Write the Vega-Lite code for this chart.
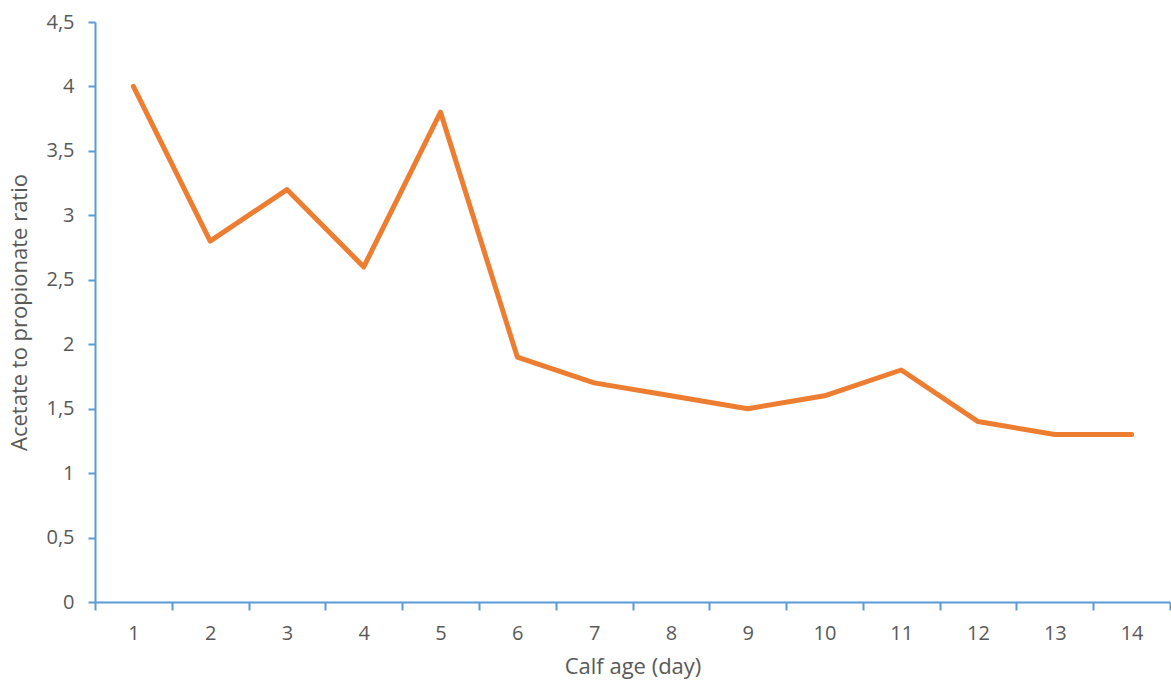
{
  "$schema": "https://vega.github.io/schema/vega-lite/v6.json",
  "autosize": {"type": "none"},
  "width": 1075,
  "height": 580,
  "padding": {"left": 95, "top": 22, "right": 1, "bottom": 85},
  "background": "white",
  "config": {"view": {"stroke": null}, "font": "Open Sans"},
  "data": {"values": [
    {"day": "1", "ratio": 4.0},
    {"day": "2", "ratio": 2.8},
    {"day": "3", "ratio": 3.2},
    {"day": "4", "ratio": 2.6},
    {"day": "5", "ratio": 3.8},
    {"day": "6", "ratio": 1.9},
    {"day": "7", "ratio": 1.7},
    {"day": "8", "ratio": 1.6},
    {"day": "9", "ratio": 1.5},
    {"day": "10", "ratio": 1.6},
    {"day": "11", "ratio": 1.8},
    {"day": "12", "ratio": 1.4},
    {"day": "13", "ratio": 1.3},
    {"day": "14", "ratio": 1.3}
  ]},
  "mark": {"type": "line", "color": "#ED7D31", "strokeWidth": 5, "strokeCap": "round", "strokeJoin": "round"},
  "encoding": {
    "x": {
      "field": "day", "type": "ordinal", "sort": null,
      "scale": {"type": "band", "paddingInner": 0, "paddingOuter": 0},
      "axis": {
        "title": "Calf age (day)", "titleFontSize": 22, "titleFontWeight": "normal", "titleColor": "#595959", "titlePadding": 13,
        "labelAngle": 0, "labelFontSize": 20, "labelColor": "#595959", "labelPadding": 13,
        "tickBand": "extent", "tickSize": 8, "tickColor": "#5B9BD5", "tickWidth": 2,
        "domainColor": "#5B9BD5", "domainWidth": 2, "grid": false
      }
    },
    "y": {
      "field": "ratio", "type": "quantitative",
      "scale": {"domain": [0, 4.5], "nice": false},
      "axis": {
        "title": "Acetate to propionate ratio", "titleFontSize": 22, "titleFontWeight": "normal", "titleColor": "#595959", "titlePadding": 14,
        "values": [0, 0.5, 1, 1.5, 2, 2.5, 3, 3.5, 4, 4.5],
        "labelExpr": "replace(format(datum.value, '~g'), '.', ',')",
        "labelFontSize": 20, "labelColor": "#595959", "labelPadding": 14,
        "tickSize": 7, "tickColor": "#5B9BD5", "tickWidth": 2,
        "domainColor": "#5B9BD5", "domainWidth": 2, "grid": false
      }
    }
  }
}
